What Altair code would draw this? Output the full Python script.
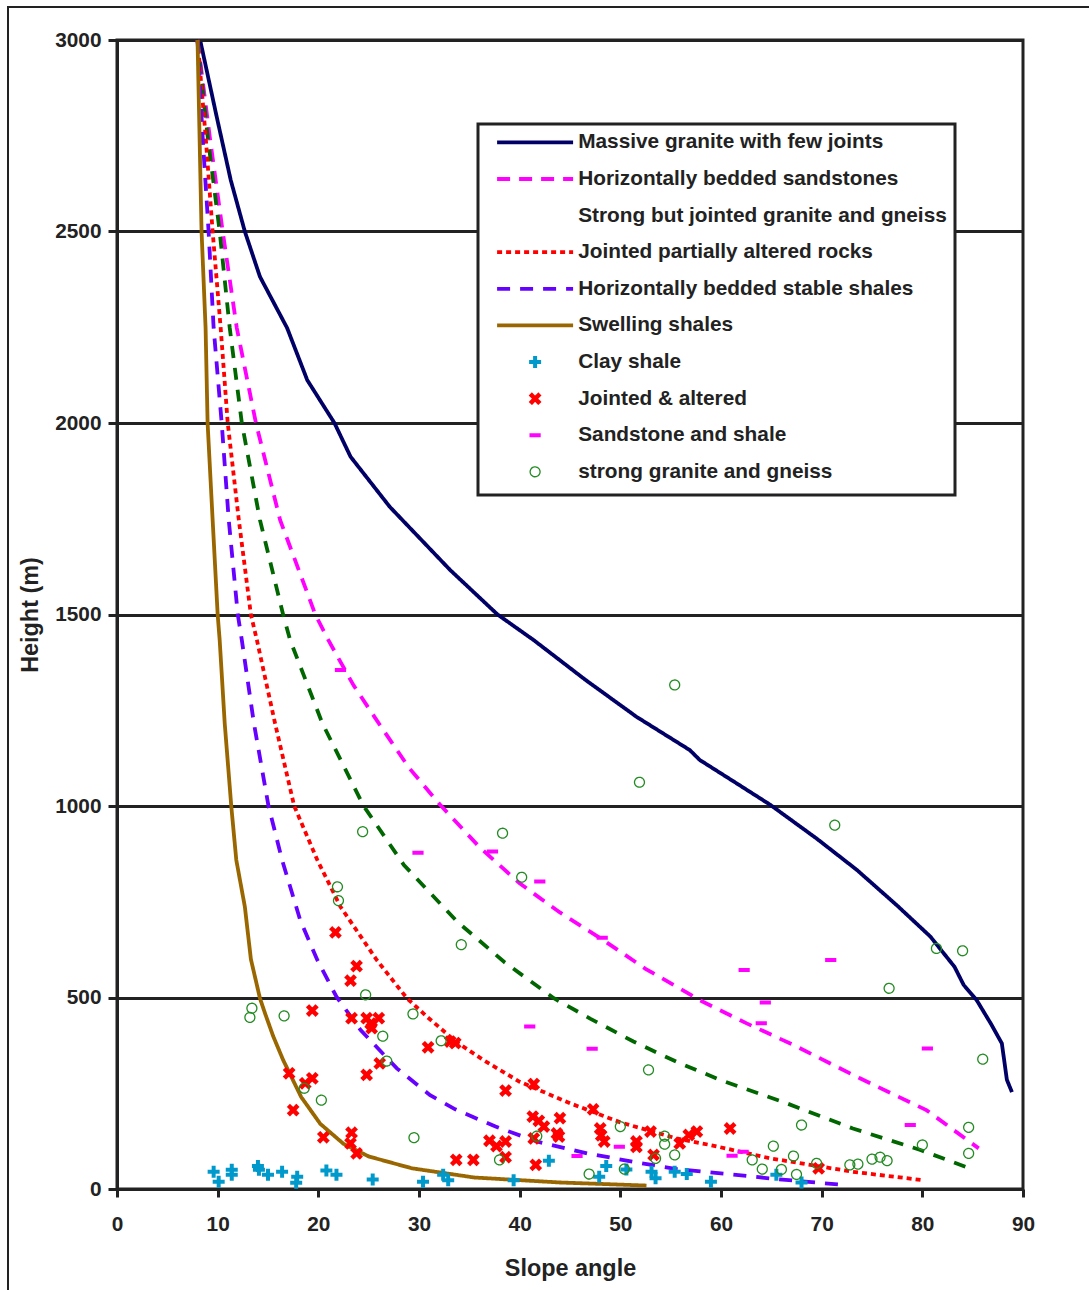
import altair as alt
import pandas as pd

# ---------------- data ----------------
series_names = [
    "Massive granite with few joints",
    "Horizontally bedded sandstones",
    "Strong but jointed granite and gneiss",
    "Jointed partially altered rocks",
    "Horizontally bedded stable shales",
    "Swelling shales",
    "Clay shale",
    "Jointed & altered",
    "Sandstone and shale",
    "strong granite and gneiss",
]

massive_granite = [(8.3, 2995), (9.9, 2800), (11.3, 2634), (12.7, 2500), (14.2, 2382), (16.9, 2248),
                   (18.9, 2112), (21.6, 2000), (23.2, 1912), (27.1, 1781), (33.1, 1616), (37.8, 1500),
                   (41.4, 1433), (46.5, 1330), (51.6, 1233), (56.9, 1146), (57.9, 1120), (61.5, 1060),
                   (64.9, 1003), (69.5, 915), (73.5, 833), (77.5, 740), (80.8, 659), (83.2, 580),
                   (84.1, 533), (85.4, 493), (86.8, 432), (87.9, 380), (88.4, 285), (88.9, 253)]
bedded_sandstones = [(8.0, 3000), (9.2, 2750), (10.5, 2500), (11.9, 2248), (13.8, 2000), (16.2, 1747),
                     (19.7, 1500), (21.0, 1433), (23.5, 1315), (26.0, 1216), (29.0, 1100), (32.1, 1003),
                     (36.0, 893), (40.0, 798), (44.0, 722), (48.3, 650), (52.5, 575), (57.9, 493),
                     (62.5, 433), (67.2, 376), (73.8, 289), (80.4, 206), (85.6, 106)]
jointed_granite = [(8.0, 3000), (9.0, 2750), (10.2, 2500), (11.2, 2248), (12.4, 2000), (14.2, 1747),
                   (16.5, 1500), (17.2, 1433), (20.4, 1216), (24.5, 1000), (28.5, 846), (33.8, 698),
                   (38.5, 592), (43.4, 498), (47.0, 445), (51.3, 385), (55.6, 332), (59.9, 285),
                   (66.5, 224), (73.1, 158), (79.8, 102), (85.1, 50)]
altered_rocks = [(8.0, 3000), (8.8, 2750), (9.5, 2500), (10.3, 2248), (11.0, 2000), (12.1, 1747),
                 (13.3, 1500), (13.9, 1433), (15.7, 1216), (17.6, 1000), (19.9, 859), (22.2, 737),
                 (25.8, 598), (28.8, 498), (31.0, 445), (33.8, 382), (36.5, 335), (40.0, 280),
                 (45.0, 224), (50.0, 174), (55.6, 132), (58.9, 115), (64.9, 80), (73.1, 45), (80.1, 23)]
stable_shales = [(8.0, 3000), (8.5, 2750), (9.1, 2500), (9.6, 2248), (10.4, 2000), (11.1, 1747),
                 (12.0, 1500), (12.4, 1433), (13.6, 1216), (15.05, 1000), (16.4, 859), (18.2, 702),
                 (19.9, 598), (21.8, 502), (24.2, 415), (27.8, 315), (31.1, 245), (33.6, 208),
                 (37.6, 163), (41.7, 124), (46.7, 93), (51.3, 71), (55.6, 52), (60.7, 39), (65.5, 26),
                 (72.5, 10)]
swelling_shales = [(8.0, 3000), (8.2, 2750), (8.4, 2500), (8.8, 2248), (9.0, 2000), (9.5, 1747),
                   (10.0, 1500), (10.2, 1433), (10.7, 1216), (11.35, 1000), (11.85, 859), (12.7, 737),
                   (13.3, 600), (14.2, 498), (14.7, 459), (15.5, 400), (16.5, 337), (18.3, 240),
                   (20.2, 170), (22.5, 118), (25.0, 85), (29.3, 54), (35.5, 30), (44.0, 17), (52.6, 9)]

clay_shale = [(9.6, 45), (10.1, 19), (11.4, 50), (11.4, 37), (14.0, 60), (14.1, 50), (15.0, 37),
              (16.4, 45), (17.9, 32), (17.8, 16), (20.8, 48), (21.8, 37), (25.4, 25), (30.4, 19),
              (32.4, 37), (32.9, 23), (39.4, 23), (42.9, 74), (48.6, 60), (47.9, 32), (50.6, 51),
              (53.1, 45), (53.5, 28), (55.4, 45), (56.6, 39), (59.0, 19), (65.5, 37), (68.0, 17)]
jointed_altered = [(21.7, 670), (23.8, 582), (23.2, 544), (19.4, 466), (23.3, 446), (24.8, 446),
                   (26.0, 446), (25.3, 420), (25.2, 432), (33.1, 385), (33.6, 381), (30.9, 370),
                   (26.1, 328), (24.8, 298), (17.1, 302), (19.4, 289), (18.7, 276), (17.5, 206),
                   (20.5, 135), (23.3, 147), (23.2, 119), (23.8, 93), (38.6, 257), (41.4, 274),
                   (47.3, 208), (41.3, 189), (44.0, 185), (42.4, 163), (48.0, 158), (43.7, 145),
                   (37.0, 126), (38.6, 124), (37.7, 112), (41.4, 132), (48.4, 124), (51.6, 124),
                   (51.6, 110), (53.0, 150), (53.3, 89), (38.6, 83), (33.7, 76), (35.4, 76),
                   (41.6, 63), (55.9, 119), (56.8, 141), (57.6, 150), (60.9, 158), (69.7, 54),
                   (43.9, 137), (41.9, 178), (48.1, 140)]
sandstone_shale = [(22.2, 1355), (29.9, 878), (37.3, 881), (42.0, 803), (48.2, 656), (62.3, 572),
                   (70.9, 598), (64.4, 487), (64.0, 433), (80.5, 367), (41.0, 424), (47.2, 366),
                   (78.8, 167), (49.9, 110), (45.7, 86), (61.1, 87), (62.2, 97)]
granite_gneiss = [(55.4, 1316), (51.9, 1062), (71.3, 950), (24.4, 933), (38.3, 929), (40.2, 814),
                  (21.9, 789), (22.0, 753), (34.2, 638), (81.4, 628), (84.0, 622), (76.7, 524),
                  (24.7, 507), (13.4, 472), (13.2, 448), (16.6, 452), (29.4, 457), (26.4, 399),
                  (32.2, 387), (26.8, 334), (18.6, 263), (20.3, 232), (29.5, 134), (86.0, 339),
                  (52.8, 311), (50.0, 163), (41.7, 138), (38.0, 76), (46.9, 39), (50.4, 52),
                  (54.4, 138), (54.4, 117), (55.4, 89), (53.5, 80), (68.0, 167), (65.2, 112),
                  (67.2, 86), (63.1, 76), (64.1, 52), (66.0, 51), (67.5, 38), (69.5, 67),
                  (72.8, 63), (73.6, 65), (75.0, 78), (75.8, 83), (76.5, 74), (80.0, 115),
                  (84.6, 93), (84.6, 161)]

x_ticks = list(range(0, 91, 10))
y_ticks = list(range(0, 3001, 500))

# ---------------- styles ----------------
colors = ["#000066", "#ff00ff", "#006600", "#ff0000", "#6600ff", "#996600",
          "#0099cc", "#ff0000", "#ff00ff", "#228b22"]
dashes = [[1, 0], [13, 9], [12, 10], [5, 4], [13, 10], [1, 0], [1, 0], [1, 0], [1, 0], [1, 0]]
# symbol paths (unit = 8 px at size 256); trailing move-tos only even out legend row heights
LINE_SYM = "M-4.75,0H4.75M0,-0.925M0,0.925"
GHOST_SYM = "M-4.75,0H4.75M0,-1.875M0,1.875"
shapes = [LINE_SYM, LINE_SYM, GHOST_SYM, LINE_SYM, LINE_SYM, LINE_SYM,
          "M-0.75,0H0.75M0,-0.75V0.75M0,-0.875M0,0.875",
          "M-0.6,-0.6L0.6,0.6M-0.6,0.6L0.6,-0.6M0,-0.75M0,0.75",
          "M-0.7,0H0.7M0,-0.875M0,0.875",
          "M0.62,0A0.62,0.62,0,1,1,-0.62,0A0.62,0.62,0,1,1,0.62,0ZM0,-1.55M0,1.55"]
stroke_widths = [3.8, 3.8, 0, 3.8, 3.8, 3.8, 4, 4.5, 4, 1.3]

# ---------------- tables ----------------
line_sets = [massive_granite, bedded_sandstones, jointed_granite, altered_rocks, stable_shales, swelling_shales]
line_rows = []
for name, pts in zip(series_names[:6], line_sets):
    for i, (a, h) in enumerate(pts):
        line_rows.append({"series": name, "angle": a, "height": h, "ord": i})
lines_df = pd.DataFrame(line_rows)

point_sets = [clay_shale, jointed_altered, sandstone_shale, granite_gneiss]
point_rows = []
for name, pts in zip(series_names[6:], point_sets):
    for a, h in pts:
        point_rows.append({"series": name, "angle": a, "height": h})
points_df = pd.DataFrame(point_rows)

# ---------------- encodings ----------------
x_enc = alt.X("angle:Q", scale=alt.Scale(domain=[0, 90], nice=False),
              axis=alt.Axis(values=x_ticks, format="d", title="Slope angle", grid=False, tickSize=8,
                            labelPadding=17, titlePadding=24, labelFlush=False))
y_enc = alt.Y("height:Q", scale=alt.Scale(domain=[0, 3000], nice=False),
              axis=alt.Axis(values=y_ticks, format="d", title="Height (m)", grid=True, tickSize=9,
                            labelPadding=7, titlePadding=12, labelFlush=False))

frame = alt.Chart(alt.Data(values=[{"k": 1}])).mark_rect(
    filled=False, stroke="#222222", strokeWidth=2
).encode(x=alt.value(-109), x2=alt.value(990), y=alt.value(-33), y2=alt.value(1270))

lines = alt.Chart(lines_df).mark_line(strokeWidth=3.8).encode(
    x=x_enc, y=y_enc,
    color=alt.Color("series:N", scale=alt.Scale(domain=series_names[:6], range=colors[:6]), legend=None),
    strokeDash=alt.StrokeDash("series:N", scale=alt.Scale(domain=series_names[:6], range=dashes[:6]),
                              legend=None),
    order="ord:Q",
)

points = alt.Chart(points_df).mark_point(filled=False, opacity=1, size=256).encode(
    x=x_enc, y=y_enc,
    color=alt.Color("series:N", scale=alt.Scale(domain=series_names, range=colors), title=None),
    shape=alt.Shape("series:N", scale=alt.Scale(domain=series_names, range=shapes), title=None),
    strokeDash=alt.StrokeDash("series:N", scale=alt.Scale(domain=series_names, range=dashes), title=None),
    strokeWidth=alt.StrokeWidth("series:N",
                                scale=alt.Scale(type="ordinal", domain=series_names, range=stroke_widths),
                                title=None),
)

chart = alt.layer(frame, lines, points).resolve_scale(
    color="independent", strokeDash="independent", shape="independent", strokeWidth="independent"
).resolve_legend(
    color="independent", strokeDash="independent", shape="independent", strokeWidth="independent"
).properties(
    width=906, height=1149,
    padding={"left": 117, "top": 40, "right": 66, "bottom": 101},
    autosize=alt.AutoSizeParams(type="none"),
).configure(
    font="Liberation Sans"
).configure_axis(
    labelFont="Liberation Sans", labelFontSize=20.8, labelFontWeight="bold", labelColor="#222222",
    titleFont="Liberation Sans", titleFontSize=23.4, titleFontWeight="bold", titleColor="#222222",
    domainColor="#222222", domainWidth=3, tickColor="#222222", tickWidth=3,
    gridColor="#222222", gridWidth=3, gridOpacity=1,
).configure_view(
    stroke="#222222", strokeWidth=3
).configure_legend(
    orient="none", legendX=361, legendY=84, padding=8,
    strokeColor="#222222", strokeWidth=3, fillColor="white",
    labelFont="Liberation Sans", labelFontSize=20.8, labelFontWeight="bold", labelColor="#222222",
    labelLimit=600, labelOffset=32.6, symbolOffset=38.6, rowPadding=5.6, symbolSize=256,
)

chart.save("out.html", embed_options={"renderer": "svg", "actions": False})
